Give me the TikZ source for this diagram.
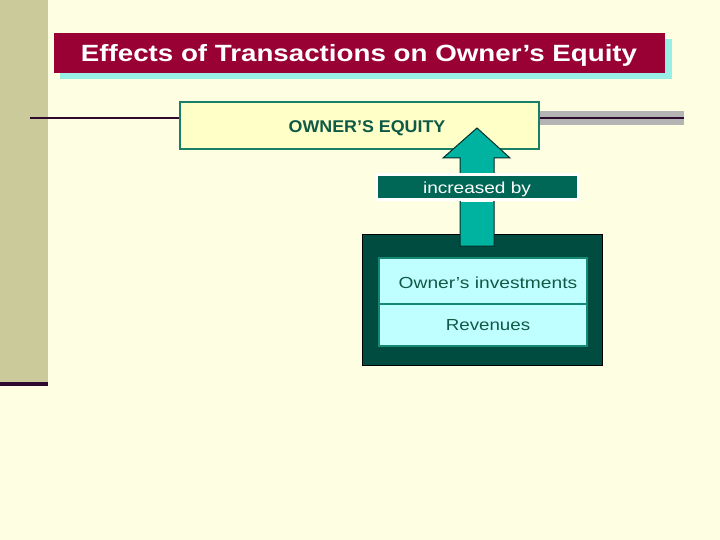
\documentclass[tikz,border=0pt]{standalone}
\usepackage{fontspec}
\setmainfont{Liberation Sans}
\definecolor{bg}{HTML}{FEFEE2}
\definecolor{sidebar}{HTML}{CACA9A}
\definecolor{darkpurple}{HTML}{2E0A2E}
\definecolor{maroon}{HTML}{990033}
\definecolor{shadowcyan}{HTML}{99EEE6}
\definecolor{paleyellow}{HTML}{FFFFC8}
\definecolor{tealborder}{HTML}{1A7F66}
\definecolor{darktext}{HTML}{0F5A46}
\definecolor{arrowteal}{HTML}{00B3A0}
\definecolor{incbox}{HTML}{006655}
\definecolor{darkbox}{HTML}{004C40}
\definecolor{lightcyan}{HTML}{C0FFFF}
\definecolor{graybar}{HTML}{B4B4B4}
\tikzset{
  txt/.style={inner sep=0pt, anchor=center},
}
\begin{document}
\begin{tikzpicture}[x=1pt,y=-1pt]
\useasboundingbox (0,0) rectangle (720,540);
\fill[bg] (0,0) rectangle (720,540);
% sidebar
\fill[sidebar] (0,0) rectangle (48,382);
\fill[darkpurple] (0,382) rectangle (48,385.5);
% title
\fill[shadowcyan] (60,39) rectangle (672,79);
\fill[maroon] (54,33) rectangle (665,73);
\node[txt, text=white, font=\bfseries\fontsize{23.5}{26}\selectfont] (title) at (359,55.5) {\scalebox{1.18}[1]{Effects of Transactions on Owner’s Equity}};
% horizontal lines
\fill[graybar] (540,111) rectangle (684,125);
\draw[darkpurple, line width=1.3pt] (30,118) -- (180,118);
\draw[darkpurple, line width=1.3pt] (540,118) -- (684,118);
% owner's equity box
\node[draw=tealborder, line width=1.5pt, fill=paleyellow, minimum width=359pt, minimum height=47pt, inner sep=0pt] (oe) at (359.5,125.5) {};
\node[txt, text=darktext, font=\bfseries\fontsize{17}{19}\selectfont] (oetext) at (367,128) {\scalebox{1.05}[1]{OWNER’S EQUITY}};
% dark box
\node[draw=black, line width=0.8pt, fill=darkbox, minimum width=240pt, minimum height=131pt, inner sep=0pt] (dark) at (482,299.5) {};
% arrow
\draw[fill=arrowteal, draw=darkbox!60!black, line width=1pt]
  (477,128) -- (510,158) -- (494,158) -- (494,246) -- (460,246) -- (460,158) -- (443,158) -- cycle;
% increased by
\node[draw=white, line width=2.5pt, fill=incbox, minimum width=201pt, minimum height=25pt, inner sep=0pt] (inc) at (477.5,187) {};
\node[txt, text=white, font=\fontsize{16}{18}\selectfont] (inctext) at (477,189) {\scalebox{1.19}[1]{increased by}};
\draw[white, line width=1pt] (461,202) -- (493,202);
% inner boxes
\node[draw=tealborder!80!arrowteal, line width=1.2pt, fill=lightcyan, minimum width=208pt, minimum height=46pt, inner sep=0pt] (inv) at (483,281) {};
\node[draw=tealborder!80!arrowteal, line width=1.2pt, fill=lightcyan, minimum width=208pt, minimum height=42pt, inner sep=0pt] (rev) at (483,325) {};
\node[txt, text=darktext, font=\fontsize{16}{18}\selectfont] (invtext) at (488,282.5) {\scalebox{1.2}[1]{Owner’s investments}};
\node[txt, text=darktext, font=\fontsize{16}{18}\selectfont] (revtext) at (488,325.5) {\scalebox{1.17}[1]{Revenues}};
\end{tikzpicture}
\end{document}
